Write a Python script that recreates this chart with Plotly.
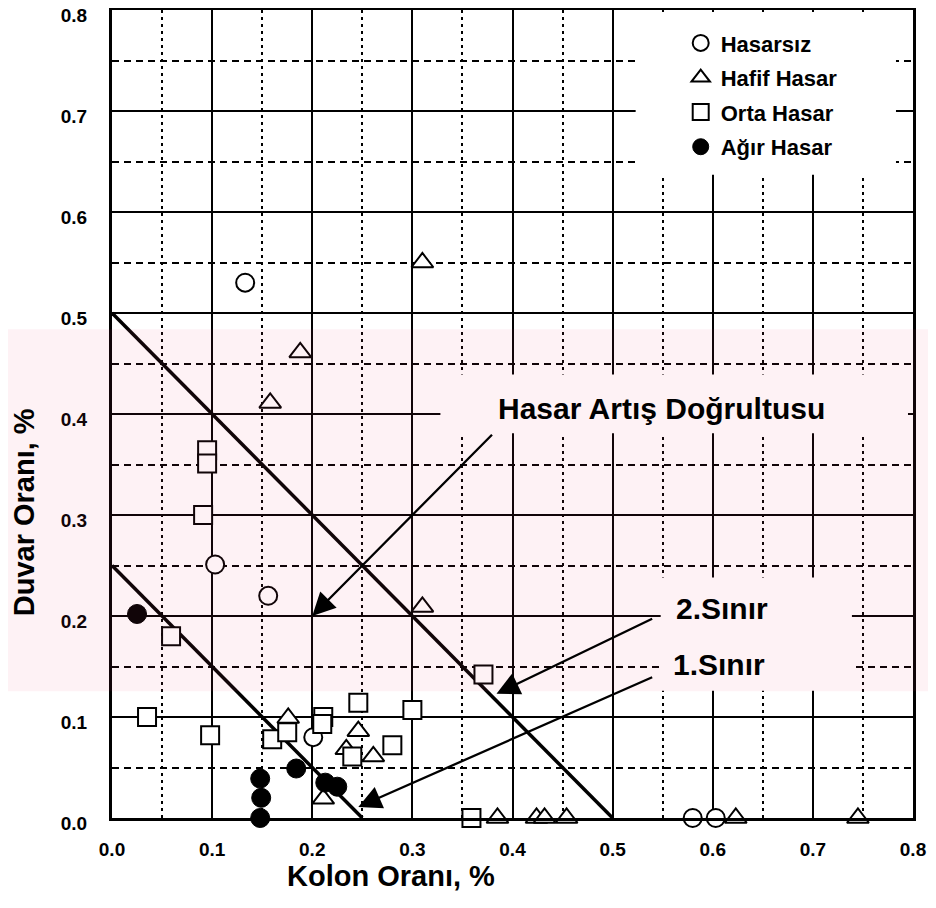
import plotly.graph_objects as go

# ---------------- data ----------------
hasarsiz_x = [0.133, 0.103, 0.156, 0.201, 0.580, 0.603]
hasarsiz_y = [0.530, 0.251, 0.220, 0.080, 0.000, 0.000]

hafif_x = [0.310, 0.188, 0.158, 0.310, 0.176, 0.246, 0.234, 0.261, 0.211,
           0.385, 0.424, 0.432, 0.454, 0.623, 0.745]
hafif_y = [0.550, 0.461, 0.411, 0.209, 0.099, 0.086, 0.068, 0.061, 0.019,
           0.000, 0.000, 0.000, 0.000, 0.000, 0.000]

orta_x = [0.095, 0.095, 0.091, 0.059, 0.035, 0.098, 0.160, 0.175, 0.211,
          0.210, 0.246, 0.300, 0.280, 0.240, 0.371, 0.359]
orta_y = [0.364, 0.351, 0.300, 0.180, 0.100, 0.082, 0.078, 0.085, 0.100,
          0.093, 0.114, 0.107, 0.072, 0.061, 0.142, 0.000]

agir_x = [0.025, 0.184, 0.148, 0.149, 0.148, 0.213, 0.225]
agir_y = [0.202, 0.049, 0.039, 0.020, 0.000, 0.035, 0.031]

sinir1_x = [0.0, 0.25]
sinir1_y = [0.25, 0.0]
sinir2_x = [0.0, 0.5]
sinir2_y = [0.5, 0.0]

tick_vals = [0.0, 0.1, 0.2, 0.3, 0.4, 0.5, 0.6, 0.7, 0.8]
tick_text = ["0.0", "0.1", "0.2", "0.3", "0.4", "0.5", "0.6", "0.7", "0.8"]

series_names = ["Hasarsız", "Hafif Hasar", "Orta Hasar", "Ağır Hasar"]

# arrows: (tip, tail) in data units
arrow_tips_x = [0.200, 0.384, 0.246]
arrow_tips_y = [0.200, 0.123, 0.011]
arrow_tails_x = [0.381, 0.541, 0.541]
arrow_tails_y = [0.381, 0.198, 0.140]

FONT = "Liberation Sans, Arial, sans-serif"

fig = go.Figure()

# boundary lines
for bx, by in [(sinir1_x, sinir1_y), (sinir2_x, sinir2_y)]:
    fig.add_trace(go.Scatter(x=bx, y=by, mode="lines",
                             line=dict(color="black", width=3.5),
                             showlegend=False, hoverinfo="skip"))

mk_line = dict(color="black", width=2)
fig.add_trace(go.Scatter(x=hasarsiz_x, y=hasarsiz_y, mode="markers", name=series_names[0],
                         legendgroup="a", cliponaxis=False,
                         marker=dict(symbol="circle", size=18, color="white", line=mk_line)))
fig.add_trace(go.Scatter(x=hafif_x, y=hafif_y, mode="markers", name=series_names[1],
                         legendgroup="b", cliponaxis=False,
                         marker=dict(symbol="triangle-up", size=19, color="white", line=mk_line)))
fig.add_trace(go.Scatter(x=orta_x, y=orta_y, mode="markers", name=series_names[2],
                         legendgroup="c", cliponaxis=False,
                         marker=dict(symbol="square", size=18, color="white", line=mk_line)))
fig.add_trace(go.Scatter(x=agir_x, y=agir_y, mode="markers", name=series_names[3],
                         legendgroup="d", cliponaxis=False,
                         marker=dict(symbol="circle", size=19, color="black",
                                     line=dict(color="black", width=1))))

# white areas behind legend and labels (grid erased there)
erase = [
    (0.523, 0.783, 0.637, 0.798),
    (0.328, 0.795, 0.381, 0.439),
    (0.548, 0.739, 0.126, 0.238),
]
shapes = []
for x0, x1, y0, y1 in erase:
    shapes.append(dict(type="rect", xref="x", yref="y", x0=x0, x1=x1, y0=y0, y1=y1,
                       fillcolor="white", line=dict(width=0), layer="between"))
# faint pink watermark band
shapes.append(dict(type="rect", xref="paper", yref="paper", x0=-0.2, x1=1.1,
                   y0=0.157, y1=0.605, fillcolor="rgba(235,70,110,0.07)",
                   line=dict(width=0), layer="above"))

annotations = []
for tx, ty, sx, sy in zip(arrow_tips_x, arrow_tips_y, arrow_tails_x, arrow_tails_y):
    annotations.append(dict(x=tx, y=ty, ax=sx, ay=sy, xref="x", yref="y",
                            axref="x", ayref="y", text="", showarrow=True,
                            arrowhead=2, arrowsize=2.0, arrowwidth=2.3,
                            arrowcolor="black"))

lab_font = dict(family=FONT, size=30, color="black", weight="bold")
title_font = dict(family=FONT, size=29, color="black", weight="bold")
annotations += [
    dict(x=0.549, y=0.405, xref="x", yref="y", text="Hasar Artış Doğrultusu",
         showarrow=False, font=lab_font, xanchor="center", yanchor="middle"),
    dict(x=0.609, y=0.207, xref="x", yref="y", text="2.Sınır",
         showarrow=False, font=lab_font, xanchor="center", yanchor="middle"),
    dict(x=0.606, y=0.152, xref="x", yref="y", text="1.Sınır",
         showarrow=False, font=lab_font, xanchor="center", yanchor="middle"),
    dict(x=0.348, y=-0.0715, xref="paper", yref="paper", text="Kolon Oranı, %",
         showarrow=False, font=title_font, xanchor="center", yanchor="middle"),
    dict(x=-0.1105, y=0.379, xref="paper", yref="paper", text="Duvar Oranı, %",
         textangle=-90, showarrow=False, font=title_font,
         xanchor="center", yanchor="middle"),
]

axis_common = dict(
    range=[0, 0.8], tickmode="array", tickvals=tick_vals, ticktext=tick_text,
    showgrid=True, gridcolor="black", gridwidth=2,
    showline=True, linecolor="black", linewidth=3, mirror=True,
    ticks="", zeroline=False, automargin=False, ticklabeloverflow="allow",
    tickfont=dict(family=FONT, size=19, color="black", weight="bold"),
)

fig.update_layout(
    width=936, height=908,
    margin=dict(l=104, r=31, t=2, b=98),
    paper_bgcolor="white", plot_bgcolor="white",
    xaxis=dict(**axis_common, ticklabelstandoff=12,
               minor=dict(dtick=0.05, tick0=0.05, showgrid=True, gridcolor="black",
                          gridwidth=1.5, griddash="3px,4px", ticks="")),
    yaxis=dict(**axis_common, ticklabelstandoff=18, ticklabelshift=5,
               minor=dict(dtick=0.05, tick0=0.05, showgrid=True, gridcolor="black",
                          gridwidth=1.5, griddash="7px,5px", ticks="")),
    legend=dict(x=0.710, y=0.985, xanchor="left", yanchor="top",
                bgcolor="rgba(0,0,0,0)", tracegroupgap=3,
                font=dict(family=FONT, size=22, color="black", weight="bold")),
    shapes=shapes,
    annotations=annotations,
    showlegend=True,
)

fig.write_html("out.html")
